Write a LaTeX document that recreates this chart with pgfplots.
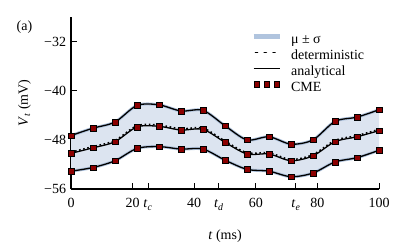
\documentclass[border=0pt]{standalone}
\usepackage{fontspec}
\setmainfont{Liberation Serif}
\usepackage{pgfplots}
\usepackage{pgfplotstable}
\pgfplotsset{compat=1.18}
\usepgfplotslibrary{fillbetween}
\definecolor{band}{RGB}{176,196,222}
\definecolor{cme}{RGB}{139,0,0}
\newcommand\myfs{\fontsize{14bp}{16bp}\selectfont}
\pgfplotstableread{
x       top    mid    bot    det
0       -47.3  -50.2  -53.1  -50.0
7.143   -46.1  -49.3  -52.5  -49.1
14.286  -45.1  -48.3  -51.4  -48.1
21.429  -42.4  -45.9  -49.4  -45.7
28.571  -42.3  -45.8  -49.1  -45.6
35.714  -43.3  -46.4  -49.5  -46.2
42.857  -43.2  -46.3  -49.5  -46.1
50.000  -45.7  -48.4  -51.3  -48.2
57.143  -48.0  -50.3  -52.8  -50.1
64.286  -47.5  -50.3  -53.1  -50.1
71.429  -48.7  -51.4  -54.0  -51.2
78.571  -48.0  -50.6  -53.4  -50.4
85.714  -45.0  -48.3  -51.6  -48.1
92.857  -44.3  -47.5  -50.9  -47.3
100.000 -43.1  -46.5  -49.7  -46.3
}\data
\begin{document}
\myfs
\begin{tikzpicture}[font=\myfs]
\begin{axis}[
  at={(0,0)}, anchor=south west,
  scale only axis, width=308bp, height=172bp,
  xmin=0, xmax=100, ymin=-56, ymax=-28,
  axis x line=bottom, axis y line=left,
  axis line style={-, line width=1.2pt},
  tick align=inside, major tick length=6bp,
  tick style={black, line width=0.8pt},
  xtick={0,20,25,40,48,60,73,80,100},
  xticklabels={\myfs 0,\myfs 20,\myfs\textit{t}\textsubscript{\textit{c}},\myfs 40,\myfs\textit{t}\textsubscript{\textit{d}},\myfs 60,\myfs\textit{t}\textsubscript{\textit{e}},\myfs 80,\myfs 100},
  ytick={-56,-48,-40,-32},
  yticklabels={\myfs −56,\myfs −48,\myfs −40,\myfs −32},
  x tick label style={font=\myfs, text height=10bp, text depth=3bp, yshift=-4bp},
  y tick label style={font=\myfs},
  xlabel={\myfs\textit{t} (ms)},
  ylabel={\myfs\textit{V}\textsubscript{\textit{t}} (mV)},
  xlabel style={font=\myfs, at={(rel axis cs:0.5,-0.2965)}, anchor=base},
  ylabel style={font=\myfs, at={(rel axis cs:-0.151,0.5)}, anchor=center},
  legend style={at={(rel axis cs:0.584,0.91)}, anchor=north west, draw=none, fill=none,
    font=\myfs, inner sep=0pt, row sep=1.5bp,
    nodes={inner sep=0pt, text height=11bp, text depth=3.5bp},
    /tikz/every odd column/.append style={column sep=9bp}},
  legend cell align=left,
  clip=false,
]
\addlegendimage{legend image code/.code={\draw[band, line width=5bp] (0bp,3.5bp) -- (26bp,3.5bp);}}
\addlegendentry{\myfs μ ± σ}
\addlegendimage{legend image code/.code={\draw[black, line width=1.8pt, dash pattern=on 1.8bp off 7bp, line cap=round] (2bp,3.5bp) -- (26bp,3.5bp);}}
\addlegendentry{\myfs deterministic}
\addlegendimage{legend image code/.code={\draw[black, line width=1.4pt] (0bp,3.5bp) -- (26bp,3.5bp);}}
\addlegendentry{\myfs analytical}
\addlegendimage{legend image code/.code={\foreach \c in {3,13,23}{\draw[black, fill=cme, line width=0.4pt] (\c bp-2.8bp,0.7bp) rectangle (\c bp+2.8bp,6.3bp);}}}
\addlegendentry{\myfs CME}

\addplot[name path=T, draw=band, line width=3pt, smooth, forget plot] table[x=x,y=top] {\data};
\addplot[name path=B, draw=band, line width=3pt, smooth, forget plot] table[x=x,y=bot] {\data};
\addplot[band!45, forget plot] fill between[of=T and B];
\addplot[black, line width=1.6pt, dash pattern=on 1.6bp off 2.6bp, smooth, forget plot] table[x=x,y=det] {\data};
\addplot[black, line width=1.3pt, smooth, forget plot] table[x=x,y=top] {\data};
\addplot[black, line width=1.3pt, smooth, forget plot] table[x=x,y=mid] {\data};
\addplot[black, line width=1.3pt, smooth, forget plot] table[x=x,y=bot] {\data};
\addplot[only marks, mark=square*, mark size=2.8bp, mark options={fill=cme, draw=black, line width=0.4pt}, forget plot] table[x=x,y=top] {\data};
\addplot[only marks, mark=square*, mark size=2.8bp, mark options={fill=cme, draw=black, line width=0.4pt}, forget plot] table[x=x,y=mid] {\data};
\addplot[only marks, mark=square*, mark size=2.8bp, mark options={fill=cme, draw=black, line width=0.4pt}, forget plot] table[x=x,y=bot] {\data};
\end{axis}
\node at (-46.5bp,162bp) {\myfs (a)};
\pgfresetboundingbox
\path[use as bounding box] (-71bp,-63bp) rectangle (337bp,189bp);
\end{tikzpicture}
\end{document}
